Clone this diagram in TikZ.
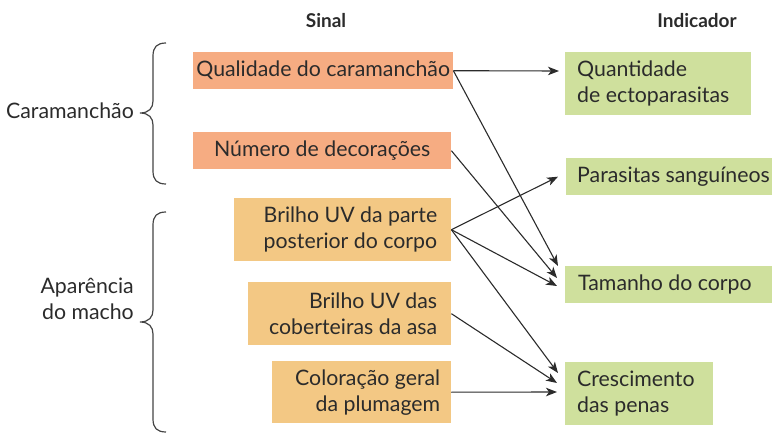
\documentclass[tikz,border=0pt]{standalone}
\usepackage{fontspec}
\setmainfont{Lato}
\usetikzlibrary{arrows.meta,calc}
\definecolor{salmon}{HTML}{F6AC82}
\definecolor{sand}{HTML}{F3C884}
\definecolor{leaf}{HTML}{CFE09D}
\definecolor{ink}{HTML}{2B2B2B}
\definecolor{bracec}{HTML}{444444}
\begin{document}
\begin{tikzpicture}[x=1pt,y=-1pt,
  boxs/.style={anchor=north west, inner sep=0pt, draw=none},
  txt/.style={inner sep=0pt, text=ink, font=\fontsize{21.3}{26}\selectfont},
  head/.style={inner sep=0pt, text=ink, font=\fontsize{19}{22}\selectfont\bfseries},
  arr/.style={draw=ink, line width=1.1pt, -{Stealth[length=11pt,width=8.5pt,inset=3pt]}},
  bracepath/.style={draw=bracec, line width=1.2pt}]
\useasboundingbox (0,0) rectangle (772,433);

% headings
\node[head] (hs) at (326,21) {Sinal};
\node[head] (hi) at (697,21) {Indicador};

% left boxes
\node[boxs, fill=salmon, minimum width=260pt, minimum height=37pt] (q) at (193,52) {};
\node[txt] (qt) at (q.center) {Qualidade do caramanchão};
\node[boxs, fill=salmon, minimum width=258pt, minimum height=37pt] (n) at (193,132) {};
\node[txt] (nt) at (n.center) {Número de decorações};
\node[boxs, fill=sand, minimum width=217pt, minimum height=63pt] (b1) at (234,198) {};
\node[txt, anchor=east, align=right] (b1t) at ($(b1.east)+(-14,0)$) {Brilho UV da parte\\posterior do corpo};
\node[boxs, fill=sand, minimum width=203pt, minimum height=63pt] (b2) at (248,282) {};
\node[txt, anchor=east, align=right] (b2t) at ($(b2.east)+(-14,0)$) {Brilho UV das\\coberteiras da asa};
\node[boxs, fill=sand, minimum width=179pt, minimum height=62pt] (c) at (272,361) {};
\node[txt, anchor=east, align=right] (ct) at ($(c.east)+(-11,0)$) {Coloração geral\\da plumagem};

% right boxes
\node[boxs, fill=leaf, minimum width=186pt, minimum height=63pt] (r1) at (565,52) {};
\node[txt, anchor=west, align=left] (r1t) at ($(r1.west)+(12,0)$) {Quantidade\\de ectoparasitas};
\node[boxs, fill=leaf, minimum width=206pt, minimum height=37pt] (r2) at (566,158) {};
\node[txt, anchor=west, align=left] (r2t) at ($(r2.west)+(11,0)$) {Parasitas sanguíneos};
\node[boxs, fill=leaf, minimum width=207pt, minimum height=37pt] (r3) at (565,266) {};
\node[txt, anchor=west, align=left] (r3t) at ($(r3.west)+(13,0)$) {Tamanho do corpo};
\node[boxs, fill=leaf, minimum width=148pt, minimum height=63pt] (r4) at (565,362) {};
\node[txt, anchor=west, align=left] (r4t) at ($(r4.west)+(12,0)$) {Crescimento\\das penas};

% group labels
\node[txt, anchor=east] (gc) at (134,111) {Caramanchão};
\node[txt, anchor=east, align=right] (ga) at (134,299) {Aparência\\do macho};

% braces
\draw[bracepath] (166,43) .. controls (157,43) and (153,47) .. (153,56) -- (153,101)
  .. controls (153,108) and (149,113) .. (140,113)
  .. controls (149,113) and (153,118) .. (153,125) -- (153,171)
  .. controls (153,180) and (157,184) .. (166,184);
\draw[bracepath] (166,212) .. controls (157,212) and (153,216) .. (153,225) -- (153,310)
  .. controls (153,317) and (149,322) .. (140,322)
  .. controls (149,322) and (153,327) .. (153,334) -- (153,419)
  .. controls (153,428) and (157,432) .. (166,432);

% connectors
\draw[arr] (q.east) -- ($(r1.north west)+(-6,19)$);
\draw[arr] (q.east) -- ($(r3.north west)+(-7,0)$);
\draw[arr] (n.east) -- ($(r3.north west)+(-8,12)$);
\draw[arr] (b1.east) -- ($(r2.west)+(-8,0)$);
\draw[arr] (b1.east) -- ($(r3.north west)+(-8,20)$);
\draw[arr] (b1.east) -- ($(r4.north west)+(-7,11)$);
\draw[arr] (b2.east) -- ($(r4.north west)+(-8,21)$);
\draw[arr] (c.east) -- ($(r4.north west)+(-8,30)$);
\end{tikzpicture}
\end{document}
